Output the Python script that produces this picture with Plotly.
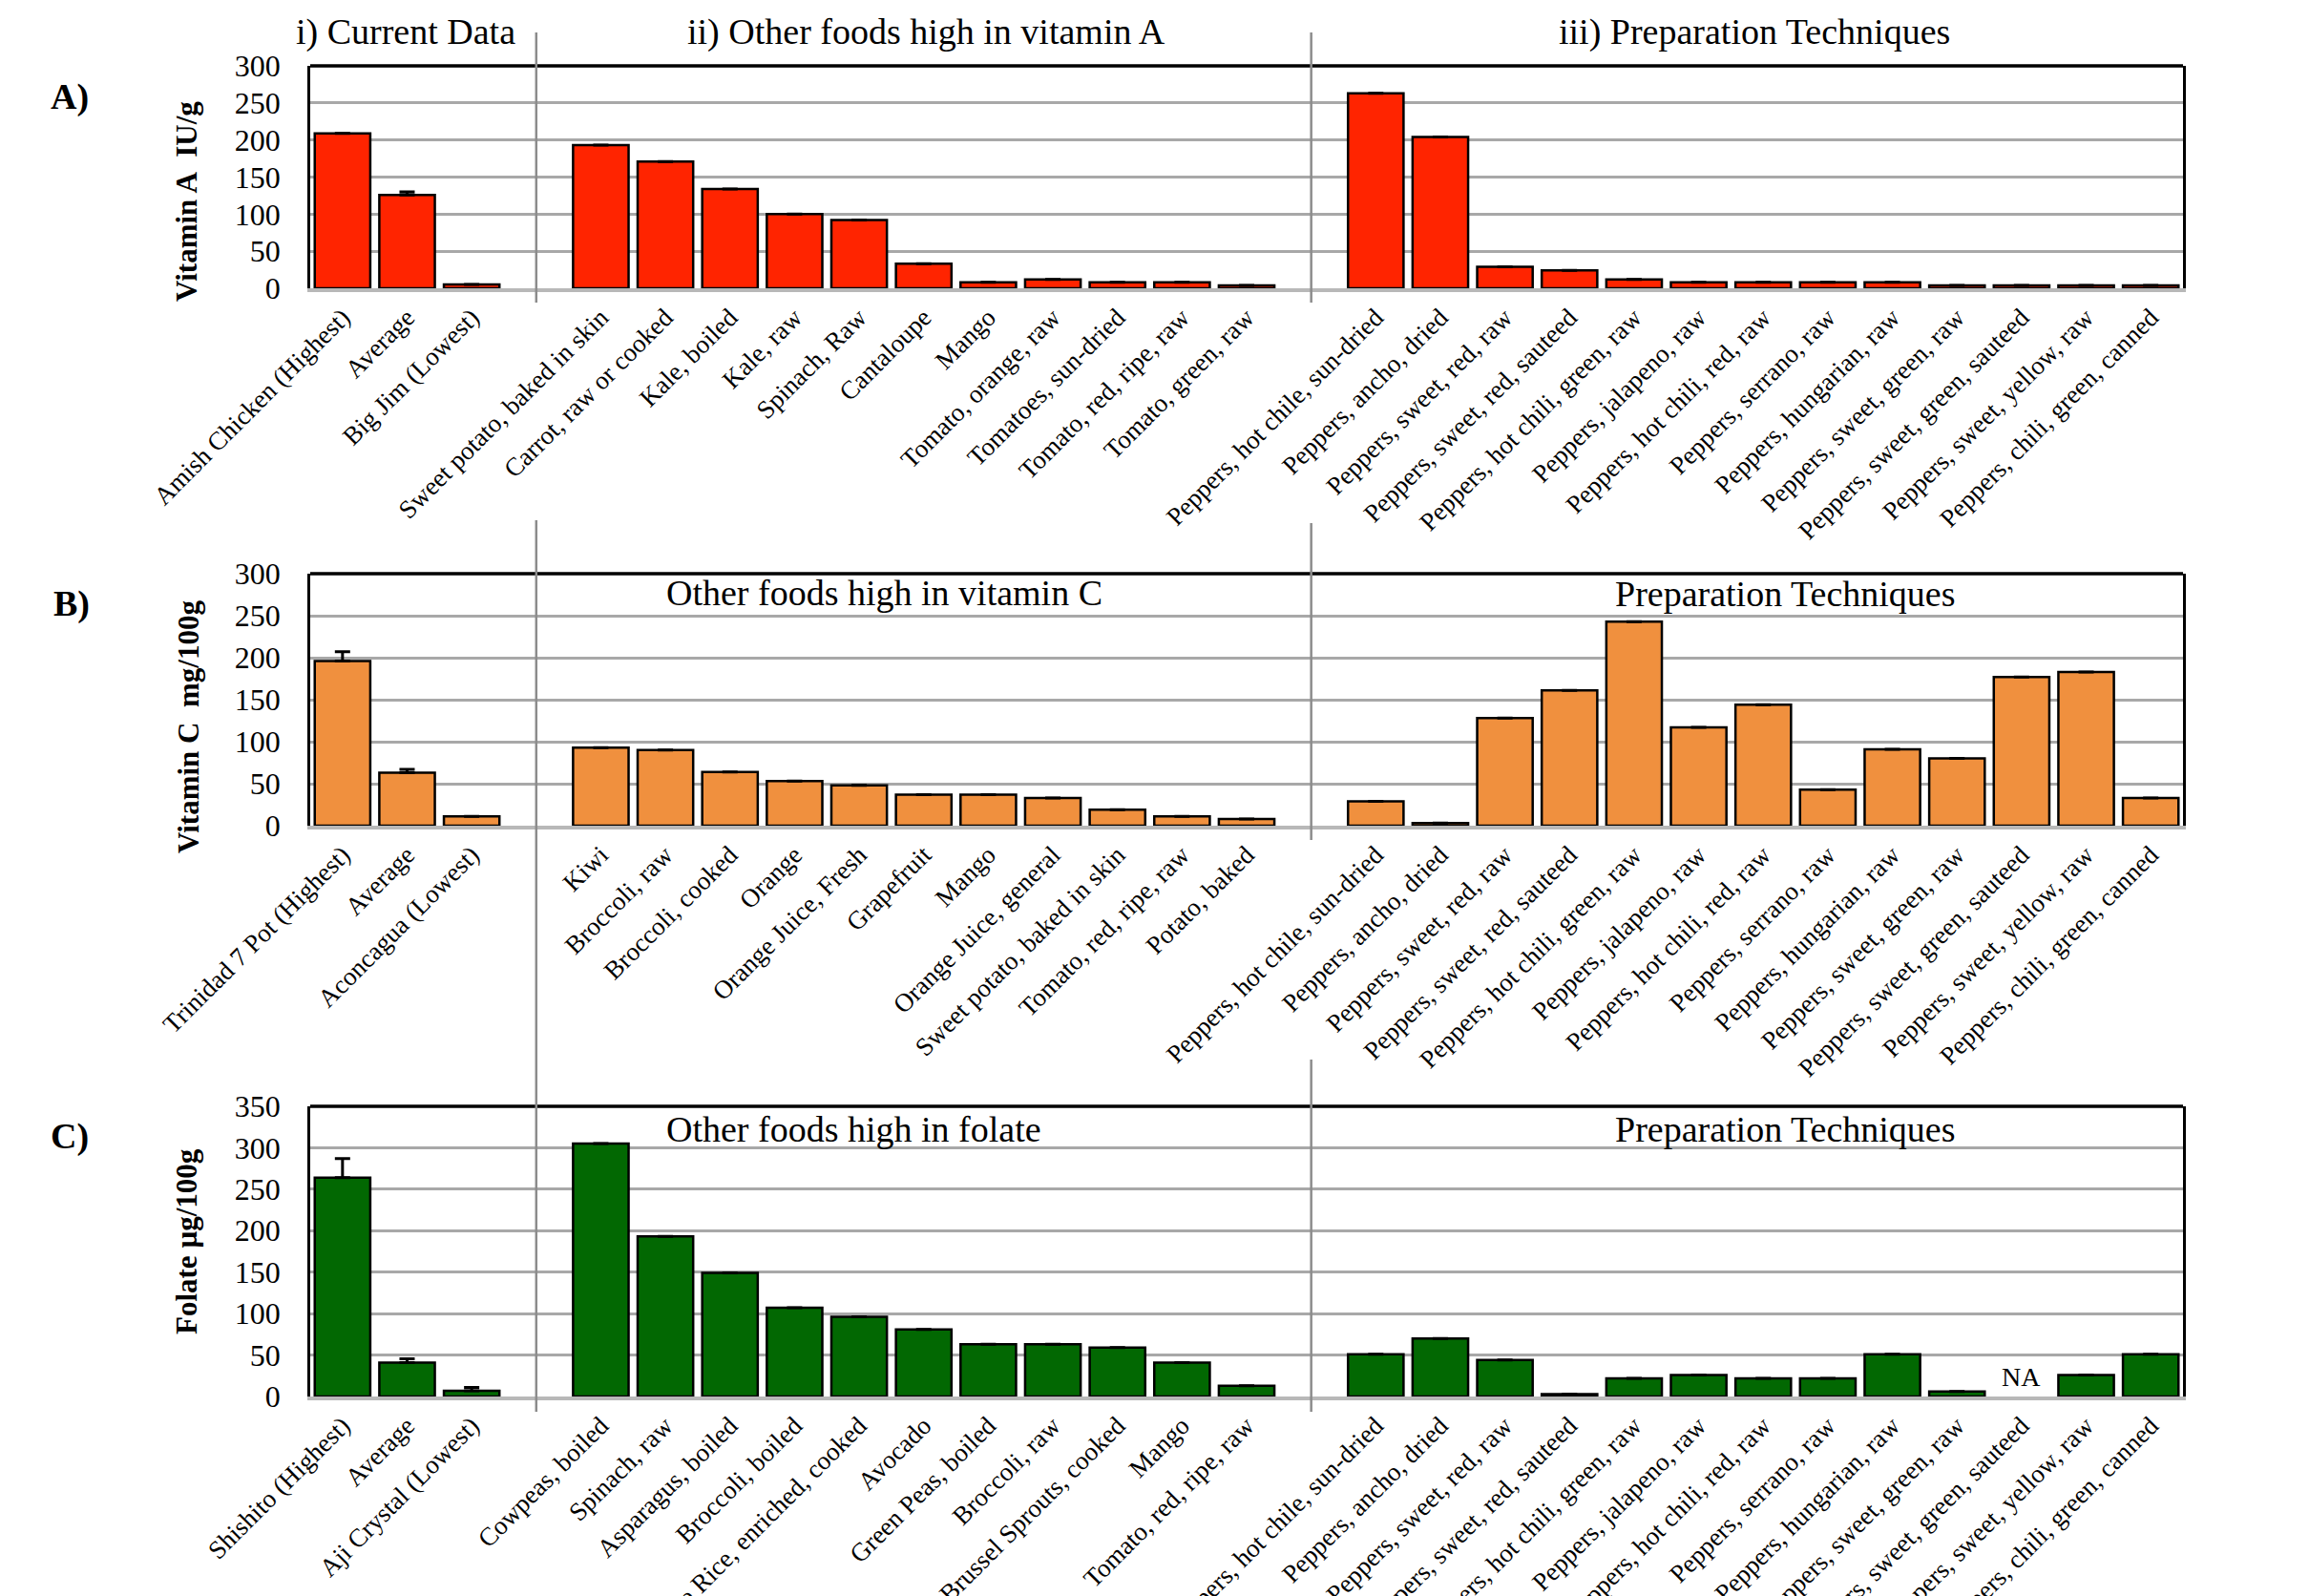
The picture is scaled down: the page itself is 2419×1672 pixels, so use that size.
import plotly.graph_objects as go

# ---------------- DATA ----------------
# Panel A: Vitamin A (IU/g)
a_current_labels = ["Amish Chicken (Highest)", "Average", "Big Jim (Lowest)"]
a_current_values = [209, 126, 5]
a_current_err = [0, 4, 0]
a_other_labels = ["Sweet potato, baked in skin", "Carrot, raw or cooked", "Kale, boiled", "Kale, raw",
                  "Spinach, Raw", "Cantaloupe", "Mango", "Tomato, orange, raw", "Tomatoes, sun-dried",
                  "Tomato, red, ripe, raw", "Tomato, green, raw"]
a_other_values = [193, 171, 134, 100, 92, 33, 8, 12, 8, 8, 4]

prep_labels = ["Peppers, hot chile, sun-dried", "Peppers, ancho, dried", "Peppers, sweet, red, raw",
               "Peppers, sweet, red, sauteed", "Peppers, hot chili, green, raw", "Peppers, jalapeno, raw",
               "Peppers, hot chili, red, raw", "Peppers, serrano, raw", "Peppers, hungarian, raw",
               "Peppers, sweet, green, raw", "Peppers, sweet, green, sauteed", "Peppers, sweet, yellow, raw",
               "Peppers, chili, green, canned"]
a_prep_values = [263, 204, 29, 24, 12, 8, 8, 8, 8, 4, 4, 4, 4]

# Panel B: Vitamin C (mg/100g)
b_current_labels = ["Trinidad 7 Pot (Highest)", "Average", "Aconcagua (Lowest)"]
b_current_values = [196, 63, 11]
b_current_err = [11, 4, 0]
b_other_labels = ["Kiwi", "Broccoli, raw", "Broccoli, cooked", "Orange", "Orange Juice, Fresh", "Grapefruit",
                  "Mango", "Orange Juice, general", "Sweet potato, baked in skin", "Tomato, red, ripe, raw",
                  "Potato, baked"]
b_other_values = [93, 90, 64, 53, 48, 37, 37, 33, 19, 11, 8]
b_prep_values = [29, 3, 128, 161, 243, 117, 144, 43, 91, 80, 177, 183, 33]

# Panel C: Folate (ug/100g)
c_current_labels = ["Shishito (Highest)", "Average", "Aji Crystal (Lowest)"]
c_current_values = [264, 41, 7]
c_current_err = [23, 4.5, 4]
c_other_labels = ["Cowpeas, boiled", "Spinach, raw", "Asparagus, boiled", "Broccoli, boiled",
                  "White Rice, enriched, cooked", "Avocado", "Green Peas, boiled", "Broccoli, raw",
                  "Brussel Sprouts, cooked", "Mango", "Tomato, red, ripe, raw"]
c_other_values = [305, 193, 149, 107, 96, 81, 63, 63, 59, 41, 13]
c_prep_values = [51, 70, 44, 3, 22, 26, 22, 22, 51, 6, None, 26, 51]

# ---------------- LAYOUT ----------------
W, H = 2419, 1672
FONT = "Liberation Serif, Times New Roman, serif"


def py(p):
    return 1 - p / H


def pxp(p):
    return p / W


X_DOM = [pxp(325), pxp(2287)]
GAP = 1  # one empty slot between groups

panels = [
    dict(cur_l=a_current_labels, cur_v=a_current_values, cur_e=a_current_err,
         oth_l=a_other_labels, oth_v=a_other_values, prep_v=a_prep_values,
         color="#ff2400", ymax=300, dom=[py(302), py(69)]),
    dict(cur_l=b_current_labels, cur_v=b_current_values, cur_e=b_current_err,
         oth_l=b_other_labels, oth_v=b_other_values, prep_v=b_prep_values,
         color="#f0903e", ymax=300, dom=[py(865), py(601)]),
    dict(cur_l=c_current_labels, cur_v=c_current_values, cur_e=c_current_err,
         oth_l=c_other_labels, oth_v=c_other_values, prep_v=c_prep_values,
         color="#026802", ymax=350, dom=[py(1463), py(1159)]),
]

fig = go.Figure()
layout = dict(
    width=W, height=H, margin=dict(l=0, r=0, t=0, b=0, pad=0),
    paper_bgcolor="white", plot_bgcolor="white", showlegend=False,
    template="none", font=dict(family=FONT, color="black"),
    bargap=0.14,
)
shapes = []
annotations = []
sep_positions = {}

for i, p in enumerate(panels):
    n = "" if i == 0 else str(i + 1)
    labels = p["cur_l"] + p["oth_l"] + prep_labels
    values = p["cur_v"] + p["oth_v"] + p["prep_v"]
    errs = p["cur_e"] + [0] * (len(p["oth_v"]) + len(p["prep_v"]))
    s1 = len(p["cur_l"]) + GAP
    s2 = s1 + len(p["oth_l"]) + GAP
    xs = list(range(len(p["cur_l"]))) + [s1 + k for k in range(len(p["oth_l"]))] + \
         [s2 + k for k in range(len(prep_labels))]
    sep_positions[i] = (s1 - 1, s2 - 1)
    fig.add_trace(go.Bar(
        x=xs, y=values, xaxis="x" + n, yaxis="y" + n,
        marker=dict(color=p["color"], line=dict(color="black", width=2.5)),
        error_y=dict(type="data", symmetric=False, array=errs, arrayminus=[0] * len(errs),
                     color="black", thickness=3, width=8),
    ))
    layout["xaxis" + n] = dict(
        domain=X_DOM, anchor="y" + n, range=[-0.5, xs[-1] + 0.5],
        tickmode="array", tickvals=xs, ticktext=labels, tickangle=-45,
        tickfont=dict(size=27, family=FONT), ticks="", showgrid=False,
        showline=True, linecolor="#b8b8b8", linewidth=4, zeroline=False, automargin=False,
    )
    layout["yaxis" + n] = dict(
        domain=p["dom"], anchor="x" + n, range=[0, p["ymax"]],
        tickmode="linear", tick0=0, dtick=50, tickfont=dict(size=32, family=FONT),
        ticks="", ticklabelstandoff=22,
        showgrid=True, gridcolor="#a8a8a8", gridwidth=2.5, zeroline=False,
        showline=True, mirror=True, linecolor="black", linewidth=2.5, automargin=False,
    )
    # top border
    shapes.append(dict(type="line", xref="x" + n + " domain", yref="y" + n + " domain",
                       x0=0, x1=1, y0=1, y1=1, line=dict(color="black", width=3.5), layer="above"))

# separators between groups (gray vertical lines extending beyond plot)
SEP = dict(color="#8c8c8c", width=2.5)
sa, sb = sep_positions[0]
shapes.append(dict(type="line", xref="x", yref="paper", x0=sa, x1=sa, y0=py(317), y1=py(34), line=SEP))
shapes.append(dict(type="line", xref="x", yref="paper", x0=sb, x1=sb, y0=py(317), y1=py(34), line=SEP))
sa, sb = sep_positions[1]
shapes.append(dict(type="line", xref="x2", yref="paper", x0=sa, x1=sa, y0=py(1479), y1=py(545), line=SEP))
shapes.append(dict(type="line", xref="x2", yref="paper", x0=sb, x1=sb, y0=py(880), y1=py(548), line=SEP))
sa, sb = sep_positions[2]
shapes.append(dict(type="line", xref="x3", yref="paper", x0=sb, x1=sb, y0=py(1479), y1=py(1110), line=SEP))


def ann(text, x, y, size, **kw):
    d = dict(text=text, x=pxp(x), y=py(y), xref="paper", yref="paper", showarrow=False,
             font=dict(size=size, family=FONT, color="black"), xanchor="center", yanchor="middle")
    d.update(kw)
    annotations.append(d)


# panel letters
ann("<b>A)</b>", 73, 101, 38)
ann("<b>B)</b>", 75, 632, 38)
ann("<b>C)</b>", 73, 1190, 38)
# y titles
ann("<b>Vitamin A\u00a0\u00a0IU/g</b>", 195, 211, 31, textangle=-90)
ann("<b>Vitamin C\u00a0\u00a0mg/100g</b>", 197, 762, 31, textangle=-90)
ann("<b>Folate µg/100g</b>", 195, 1301, 31, textangle=-90)
# group titles
ann("i) Current Data", 425, 33, 38)
ann("ii) Other foods high in vitamin A", 970, 33, 38)
ann("iii) Preparation Techniques", 1838, 33, 38)
ann("Other foods high in vitamin C", 926, 621, 38)
ann("Preparation Techniques", 1870, 622, 38)
ann("Other foods high in folate", 894, 1183, 38)
ann("Preparation Techniques", 1870, 1183, 38)

# NA marker for missing value in panel C
na_idx = c_prep_values.index(None)
s1c = len(c_current_labels) + GAP
s2c = s1c + len(c_other_labels) + GAP
annotations.append(dict(text="NA", x=s2c + na_idx, y=0, xref="x3", yref="y3", showarrow=False,
                        yanchor="bottom", yshift=3, font=dict(size=28, family=FONT, color="black")))

layout["shapes"] = shapes
layout["annotations"] = annotations
fig.update_layout(**layout)
fig.write_html("out.html")
